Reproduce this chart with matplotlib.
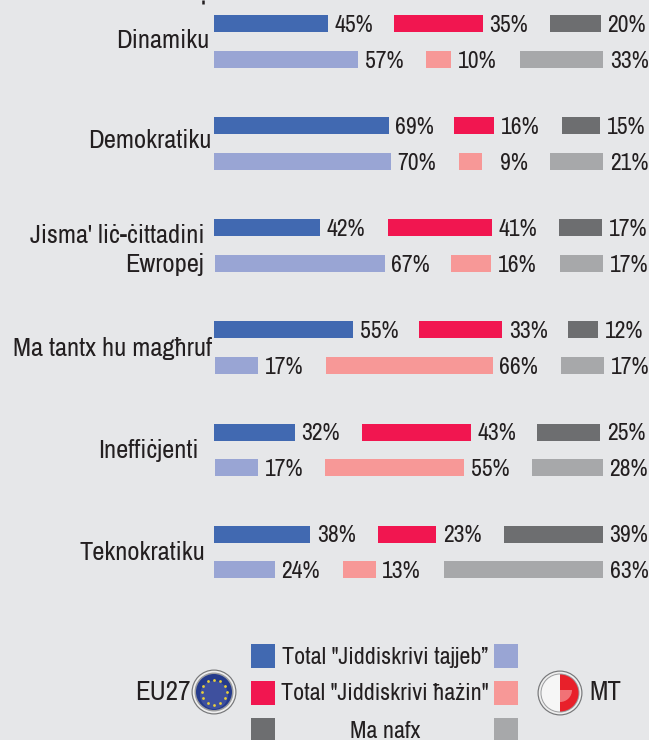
import numpy as np
import matplotlib
matplotlib.use("Agg")
import matplotlib.pyplot as plt
from matplotlib.patches import Circle, Wedge, Rectangle
from matplotlib import font_manager as fm

# ---- data ----
categories = ["Dinamiku", "Demokratiku", "Jisma' liċ-ċittadini\nEwropej", "Ma tantx hu magħruf",
              "Ineffiċjenti", "Teknokratiku"]
eu_good = [45, 69, 42, 55, 32, 38]
eu_bad = [35, 16, 41, 33, 43, 23]
eu_none = [20, 15, 17, 12, 25, 39]
mt_good = [57, 70, 67, 17, 17, 24]
mt_bad = [10, 9, 16, 66, 55, 13]
mt_none = [33, 21, 17, 17, 28, 63]
legend_labels = ['Total "Jiddiskrivi tajjeb”', 'Total "Jiddiskrivi ħażin"', 'Ma nafx']

# ---- layout (pixels) ----
W, H = 649, 740
X0, PX = 214.0, 2.53
eu_top = [15, 117, 219, 321, 424, 526]
mt_top = [51, 153, 255, 357, 459, 561]
bar_h = 17
eu_x = [(214, 394, 550), (214, 454, 562), (214, 388, 559), (214, 419, 568), (214, 362, 537), (214, 378, 504)]
mt_x = [(214, 426, 520), (214, 459, 550), (215, 451, 560), (215, 326, 561), (215, 325, 532), (214, 343, 444)]
cat_pos = [(209, 41), (212, 141), (204, 250), (212, 349), (199, 451), (205, 553)]

BG = "#e6e7e9"
INK = "#231f20"
EU_COL = ["#4169b1", "#f11650", "#6d6e70"]
MT_COL = ["#99a5d4", "#f79897", "#a7a8aa"]

names = {f.name for f in fm.fontManager.ttflist}
FONT = next((n for n in ("Liberation Sans Narrow", "Archivo Narrow", "PT Sans Narrow", "Roboto Condensed")
             if n in names), None)
narrow = FONT is not None
plt.rcParams["font.family"] = [FONT or "Liberation Sans", "DejaVu Sans"]
VAL_FS, CAT_FS, LEG_FS, TAG_FS = (17.0, 19.1, 17.3, 19.5) if narrow else (13.6, 14.0, 13.4, 15.0)

fig = plt.figure(figsize=(W / 100, H / 100), dpi=100, facecolor=BG)
ax = fig.add_axes([0, 0, 1, 1])
ax.set_xlim(-X0 / PX, (W - X0) / PX)
ax.set_ylim(H, 0)
ax.axis("off")
deco = fig.add_axes([0, 0, 1, 1])
deco.set_xlim(0, W)
deco.set_ylim(H, 0)
deco.axis("off")
deco.patch.set_alpha(0)


def to_val(px):
    return (px - X0) / PX


def draw_row(top, xs, vals, cols):
    for left, v, c in zip(xs, vals, cols):
        ax.barh(top + bar_h / 2, v, height=bar_h, left=to_val(left), color=c, linewidth=0)
        end = left + v * PX
        off = 18 if v < 10 else 6.5
        deco.text(end + off, top + bar_h / 2 + 1.5, f"{v}%", ha="left", va="center",
                  fontsize=VAL_FS, color=INK)


for i in range(len(categories)):
    draw_row(eu_top[i], eu_x[i], (eu_good[i], eu_bad[i], eu_none[i]), EU_COL)
    draw_row(mt_top[i], mt_x[i], (mt_good[i], mt_bad[i], mt_none[i]), MT_COL)
    x, y = cat_pos[i]
    deco.text(x, y, categories[i], ha="right", va="center", fontsize=CAT_FS, color=INK,
              linespacing=1.3, multialignment="right")

# legend
for y, cl, cr, lab, ty in zip((644, 681, 718), EU_COL, MT_COL, legend_labels, (657, 693, 731)):
    deco.add_patch(Rectangle((251, y), 24, 24, color=cl, lw=0))
    deco.add_patch(Rectangle((494, y), 24, 24, color=cr, lw=0))
    deco.text(385, ty, lab, ha="center", va="center", fontsize=LEG_FS, color=INK)
deco.text(135, 693, "EU27", ha="left", va="center", fontsize=TAG_FS, color=INK)
deco.text(589, 693, "MT", ha="left", va="center", fontsize=TAG_FS, color=INK)

# clipped remnant of the original heading
deco.plot([203, 203], [0, 4], color=INK, lw=1.8, solid_capstyle="butt")


def ring(cx, cy):
    deco.add_patch(Circle((cx, cy), 22.5, fc="#77787a", ec="none"))
    deco.add_patch(Circle((cx, cy), 21.3, fc="#eeeeee", ec="none"))
    deco.add_patch(Circle((cx, cy), 19.5, fc="#9c9d9f", ec="none"))


# EU flag badge
cx, cy = 214, 692
ring(cx, cy)
deco.add_patch(Circle((cx, cy), 18, fc="#243a8c", ec="none"))
deco.add_patch(Circle((cx, cy + 3), 14, fc="#4a5aa6", ec="none", alpha=0.7))
ang = np.deg2rad(np.arange(0, 360, 30))
deco.scatter(cx + 12.5 * np.cos(ang), cy + 12.5 * np.sin(ang), marker="o", s=4, c="#e8cf3a", linewidths=0, zorder=5)

# Malta flag badge
cx, cy = 560, 693
ring(cx, cy)
deco.add_patch(Wedge((cx, cy), 18.5, 90, 270, fc="#f6f6f6", ec="none"))
deco.add_patch(Wedge((cx, cy), 18.5, 270, 90, fc="#e8202a", ec="none"))
deco.add_patch(Wedge((cx, cy - 3), 12, 0, 90, fc="#f4878a", ec="none", alpha=0.8))

fig.savefig("out.png", dpi=100, facecolor=BG)
